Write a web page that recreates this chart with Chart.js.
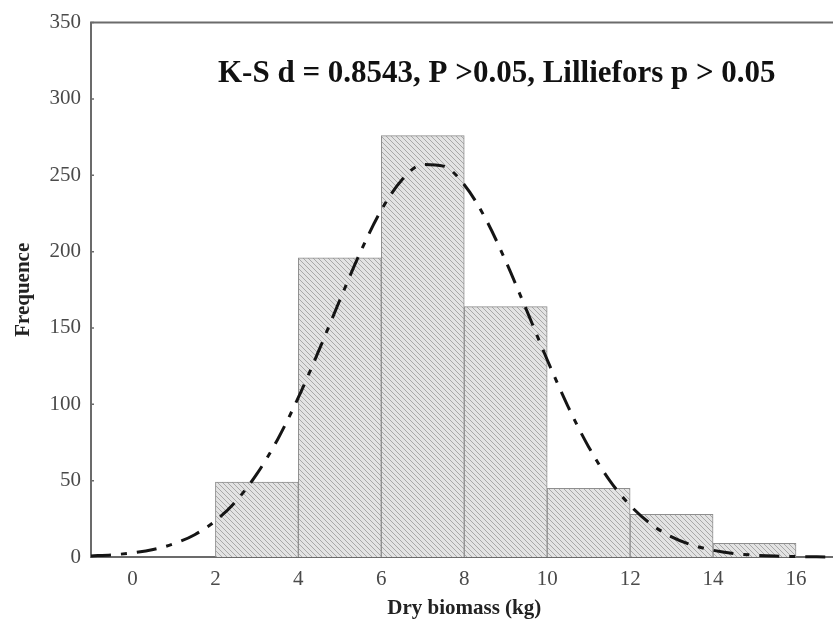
<!DOCTYPE html>
<html>
<head>
<meta charset="utf-8">
<script src="https://cdn.jsdelivr.net/npm/chart.js@4/dist/chart.umd.min.js"></script>
<style>
  html, body { margin: 0; padding: 0; background: #fff; overflow: hidden; }
  #wrap { width: 840px; height: 628px; }
</style>
</head>
<body>
<div id="wrap"><canvas id="c"></canvas></div>
<script>
// Histogram of dry biomass, class width 2 kg
const binCenters = [3, 5, 7, 9, 11, 13, 15];
const binCounts  = [49, 196, 276, 164, 45, 28, 9];

// Fitted normal curve, read at 0.5 kg steps
const curveX = [-1, -0.5, 0, 0.5, 1, 1.5, 2, 2.5, 3, 3.5, 4, 4.5, 5, 5.5, 6, 6.5, 7, 7.5,
                8, 8.5, 9, 9.5, 10, 10.5, 11, 11.5, 12, 12.5, 13, 13.5, 14, 14.5, 15, 15.5, 16, 16.5, 17];
const curveY = [0.7, 1.4, 2.7, 4.9, 8.7, 14.6, 23.7, 36.7, 54.4, 77, 104.5, 135.6, 168.3, 199.9, 227.2, 247.1, 257.1, 256,
                243.8, 222.3, 193.8, 161.8, 129.2, 98.7, 72.1, 50.4, 33.8, 21.6, 13.2, 7.8, 4.4, 2.3, 1.2, 0.6, 0.3, 0.1, 0.05];

const xTicks = [0, 2, 4, 6, 8, 10, 12, 14, 16];
const yTicks = [0, 50, 100, 150, 200, 250, 300, 350];

const statsText = 'K-S d = 0.8543, P >0.05, Lilliefors p > 0.05';
const xTitle = 'Dry biomass (kg)';
const yTitle = 'Frequence';

const SERIF = '"Liberation Serif", "Times New Roman", serif';
const AXIS = '#6b6b6b';

// hatched fill for the bars
function hatch() {
  const s = 5;
  const t = document.createElement('canvas');
  t.width = s; t.height = s;
  const c = t.getContext('2d');
  c.fillStyle = '#e3e3e3';
  c.fillRect(0, 0, s, s);
  c.strokeStyle = '#a8a8a8';
  c.lineWidth = 1;
  c.beginPath();
  c.moveTo(0, 0); c.lineTo(s, s);
  c.moveTo(-1, s - 1); c.lineTo(1, s + 1);
  c.moveTo(s - 1, -1); c.lineTo(s + 1, 1);
  c.stroke();
  return c.createPattern(t, 'repeat');
}

// frame on top/right plus small inward ticks on the y axis
const framePlugin = {
  id: 'frame',
  beforeDatasetsDraw(chart) {
    const { ctx, chartArea: a, scales } = chart;
    ctx.save();
    ctx.strokeStyle = AXIS;
    ctx.lineWidth = 2;
    ctx.beginPath();
    ctx.moveTo(a.left - 1, a.top);
    ctx.lineTo(a.right, a.top);
    ctx.lineTo(a.right, a.bottom);
    ctx.stroke();
    ctx.lineWidth = 1.5;
    ctx.beginPath();
    yTicks.forEach(v => {
      const py = scales.y.getPixelForValue(v);
      ctx.moveTo(a.left, py);
      ctx.lineTo(a.left + 3, py);
    });
    ctx.stroke();
    ctx.restore();
  },
  afterDraw(chart) {
    const { ctx, chartArea: a } = chart;
    ctx.save();
    ctx.fillStyle = '#111';
    ctx.font = 'bold 31px ' + SERIF;
    ctx.textBaseline = 'middle';
    ctx.textAlign = 'left';
    ctx.fillText(statsText, a.left + 127, a.top + 51);
    ctx.restore();
  }
};

const ctx = document.getElementById('c').getContext('2d');
new Chart(ctx, {
  data: {
    datasets: [
      {
        type: 'line',
        data: curveX.map((x, i) => ({ x, y: curveY[i] })),
        borderColor: '#151515',
        borderWidth: 3,
        borderDash: [20, 10, 6, 10],
        pointRadius: 0,
        tension: 0.4,
        cubicInterpolationMode: 'monotone',
        fill: false,
        clip: 6,
        order: 0
      },
      {
        type: 'bar',
        data: binCenters.map((x, i) => ({ x, y: binCounts[i] })),
        backgroundColor: hatch(),
        borderColor: '#8e8e8e',
        borderWidth: 1,
        barPercentage: 1,
        categoryPercentage: 1,
        order: 1
      }
    ]
  },
  options: {
    responsive: true,
    maintainAspectRatio: false,
    animation: false,
    layout: { padding: { top: 17, right: 2.5, left: 0, bottom: 0 } },
    plugins: { legend: { display: false }, tooltip: { enabled: false } },
    scales: {
      x: {
        type: 'linear',
        min: -1,
        max: 17,
        offset: false,
        afterBuildTicks: s => { s.ticks = xTicks.map(v => ({ value: v })); },
        afterFit: s => { s.height = 71; },
        grid: { display: false, drawTicks: false, offset: false },
        border: { display: true, color: AXIS, width: 2 },
        ticks: { color: '#4a4a4a', font: { family: SERIF, size: 21 }, padding: 10, maxRotation: 0 },
        title: { display: true, text: xTitle, color: '#222', font: { family: SERIF, size: 21, weight: 'bold' }, padding: { bottom: 7 } }
      },
      y: {
        type: 'linear',
        min: 0,
        max: 350,
        afterBuildTicks: s => { s.ticks = yTicks.map(v => ({ value: v })); },
        afterFit: s => { s.width = 91; },
        grid: { display: false, drawTicks: false },
        border: { display: true, color: AXIS, width: 2 },
        ticks: { color: '#4a4a4a', font: { family: SERIF, size: 21 }, padding: 10 },
        title: { display: true, text: yTitle, color: '#222', font: { family: SERIF, size: 21, weight: 'bold' }, padding: { top: 11 } }
      }
    }
  },
  plugins: [framePlugin]
});
</script>
</body>
</html>
